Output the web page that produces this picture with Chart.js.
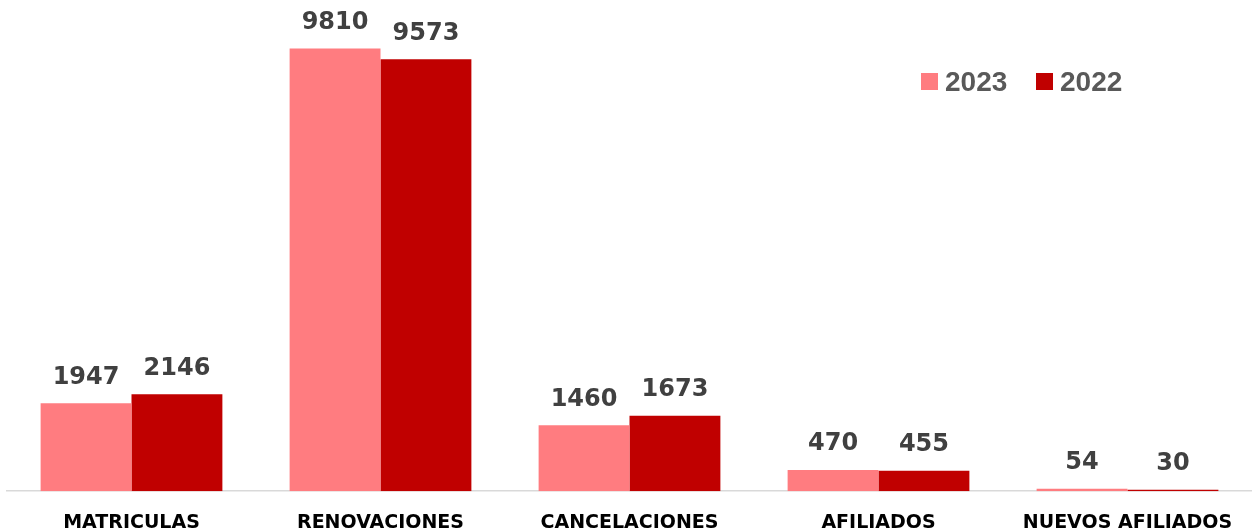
<!DOCTYPE html>
<html>
<head>
<meta charset="utf-8">
<script src="https://cdn.jsdelivr.net/npm/chart.js@4"></script>
<style>
  body { margin: 0; background: #fff; }
  #chartContainer { width: 1252px; height: 532px; position: relative; }
</style>
</head>
<body>
<div id="chartContainer"><canvas id="myChart"></canvas></div>
<script>
// data
const categories = ['MATRICULAS', 'RENOVACIONES', 'CANCELACIONES', 'AFILIADOS', 'NUEVOS AFILIADOS']
const values2023 = [1947, 9810, 1460, 470, 54]
const values2022 = [2146, 9573, 1673, 455, 30]
const seriesNames = ['2023', '2022']
const seriesColors = ['#FF7C80', '#C00000']

// value labels above each bar
const valueLabels = {
  id: 'valueLabels',
  afterDatasetsDraw(chart) {
    const ctx = chart.ctx
    ctx.save()
    ctx.font = 'bold 24px "DejaVu Sans"'
    ctx.fillStyle = '#404040'
    ctx.textAlign = 'center'
    ctx.textBaseline = 'bottom'
    chart.data.datasets.forEach((ds, i) => {
      chart.getDatasetMeta(i).data.forEach((bar, j) => {
        ctx.fillText(ds.data[j], bar.x, bar.y - 14)
      })
    })
    ctx.restore()
  }
}

// legend in the top right corner
const cornerLegend = {
  id: 'cornerLegend',
  afterDraw(chart) {
    const ctx = chart.ctx
    ctx.save()
    ctx.font = 'bold 28px "Liberation Sans"'
    ctx.textBaseline = 'middle'
    let x = 921
    const y = 82
    chart.data.datasets.forEach(ds => {
      ctx.fillStyle = ds.backgroundColor
      ctx.fillRect(x, y - 9, 17, 17)
      ctx.fillStyle = '#595959'
      ctx.fillText(ds.label, x + 24, y + 1)
      x += 115
    })
    ctx.restore()
  }
}

const data = {
  labels: categories,
  datasets: [
    { label: seriesNames[0], data: values2023, backgroundColor: seriesColors[0] },
    { label: seriesNames[1], data: values2022, backgroundColor: seriesColors[1] }
  ]
}

const config = {
  type: 'bar',
  data: data,
  options: {
    responsive: true,
    maintainAspectRatio: false,
    animation: false,
    layout: { padding: { left: 7, right: 0, top: 40, bottom: -14 } },
    datasets: { bar: { categoryPercentage: 0.73, barPercentage: 1 } },
    plugins: { legend: { display: false }, tooltip: { enabled: false } },
    scales: {
      x: {
        grid: { display: false },
        border: { color: '#D9D9D9', width: 1.5 },
        ticks: {
          color: '#000',
          font: { family: '"DejaVu Sans"', weight: 'bold', size: 19 },
          padding: 12,
          maxRotation: 0,
          autoSkip: false
        }
      },
      y: { display: false, min: 0, max: 10000 }
    }
  },
  plugins: [valueLabels, cornerLegend]
}

const myChart = new Chart(document.getElementById('myChart'), config)
</script>
</body>
</html>
